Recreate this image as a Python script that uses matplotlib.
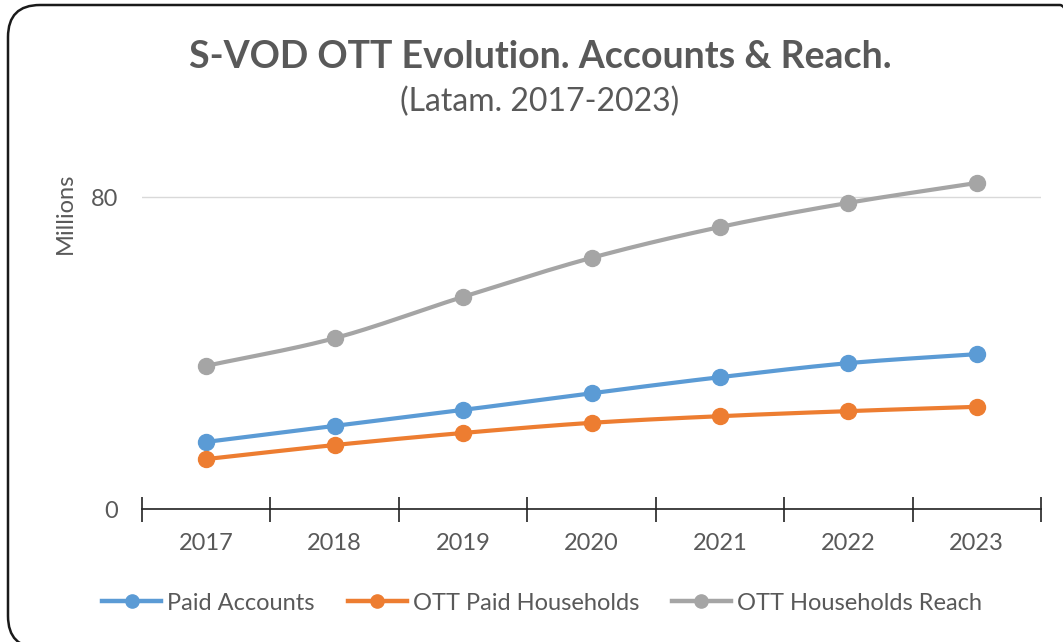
import numpy as np
import matplotlib
matplotlib.use('Agg')
import matplotlib.pyplot as plt
from matplotlib.patches import FancyBboxPatch

years = ['2017', '2018', '2019', '2020', '2021', '2022', '2023']
paid_accounts = [17.2, 21.3, 25.4, 29.7, 33.8, 37.4, 39.7]
ott_paid_households = [12.8, 16.4, 19.5, 22.1, 23.8, 25.1, 26.2]
ott_households_reach = [36.7, 43.8, 54.4, 64.4, 72.3, 78.5, 83.6]

series_names = ['Paid Accounts', 'OTT Paid Households', 'OTT Households Reach']
colors = ['#5B9BD5', '#ED7D31', '#A5A5A5']
txt = '#595959'

plt.rcParams['font.family'] = ['Lato', 'DejaVu Sans']


def smooth(x, y, n=30):
    # catmull-rom style curve through the points (like excel smoothed lines)
    x = np.asarray(x, float)
    y = np.asarray(y, float)
    px = np.concatenate([[2*x[0]-x[1]], x, [2*x[-1]-x[-2]]])
    py = np.concatenate([[2*y[0]-y[1]], y, [2*y[-1]-y[-2]]])
    xs, ys = [], []
    t = np.linspace(0, 1, n)
    for i in range(1, len(px)-2):
        for p, out in ((px, xs), (py, ys)):
            p0, p1, p2, p3 = p[i-1], p[i], p[i+1], p[i+2]
            c = 0.5*((2*p1) + (-p0+p2)*t + (2*p0-5*p1+4*p2-p3)*t**2 + (-p0+3*p1-3*p2+p3)*t**3)
            out.extend(c)
    return np.array(xs), np.array(ys)


W, H = 1063, 642
fig = plt.figure(figsize=(W/100, H/100), dpi=100)

# rounded frame drawn in pixel coordinates (y measured from bottom)
bg = fig.add_axes([0, 0, 1, 1])
bg.set_xlim(0, W)
bg.set_ylim(0, H)
bg.axis('off')
bg.add_patch(FancyBboxPatch((8, H-648), 1084, 643, boxstyle='round,pad=0,rounding_size=32',
                            fill=False, ec='#1a1a1a', lw=1.8, clip_on=True))

ax = fig.add_axes([142/W, 1-509/H, (1041-142)/W, (509-138.5)/H])

xpos = np.arange(len(years))
for vals, name, col in zip([paid_accounts, ott_paid_households, ott_households_reach], series_names, colors):
    sx, sy = smooth(xpos, vals)
    ax.plot(sx, sy, color=col, lw=3, solid_capstyle='round', zorder=3)
    ax.plot(xpos, vals, 'o', color=col, ms=11.5, zorder=4)
    ax.plot([], [], '-o', color=col, lw=3.2, ms=9.5, label=name)

ax.set_xlim(-0.5, 6.5)
ax.set_ylim(0, 95)
ax.set_yticks([0, 80])
ax.set_xticks(xpos)
ax.set_xticklabels(years)
ax.set_xticks(np.arange(-0.5, 7, 1), minor=True)
ax.tick_params(axis='x', which='major', length=0, pad=17, labelsize=17, labelcolor=txt)
ax.tick_params(axis='x', which='minor', direction='inout', length=18, width=1.2, color='#222222')
ax.tick_params(axis='y', length=0, pad=17, labelsize=17, labelcolor=txt)
ax.grid(axis='y', color='#D9D9D9', lw=1)
ax.set_axisbelow(True)
for s in ['top', 'right', 'left']:
    ax.spines[s].set_visible(False)
ax.spines['bottom'].set_color('#222222')
ax.spines['bottom'].set_linewidth(1.2)

fig.text(65/W, 1-213/H, 'Millions', rotation=90, ha='center', va='center', fontsize=17, color=txt)
fig.text(540/W, 1-57/H, 'S-VOD OTT Evolution. Accounts & Reach.', ha='center', va='center',
         fontsize=27, fontweight='bold', color=txt)
fig.text(540/W, 1-102/H, '(Latam. 2017-2023)', ha='center', va='center', fontsize=23, color=txt)

fig.legend(loc='center', bbox_to_anchor=(542/W, 1-603/H), ncol=3, frameon=False, fontsize=17,
           handlelength=2.5, handletextpad=0.25, columnspacing=1.4, labelcolor=txt)

fig.savefig('out.png', dpi=100)
